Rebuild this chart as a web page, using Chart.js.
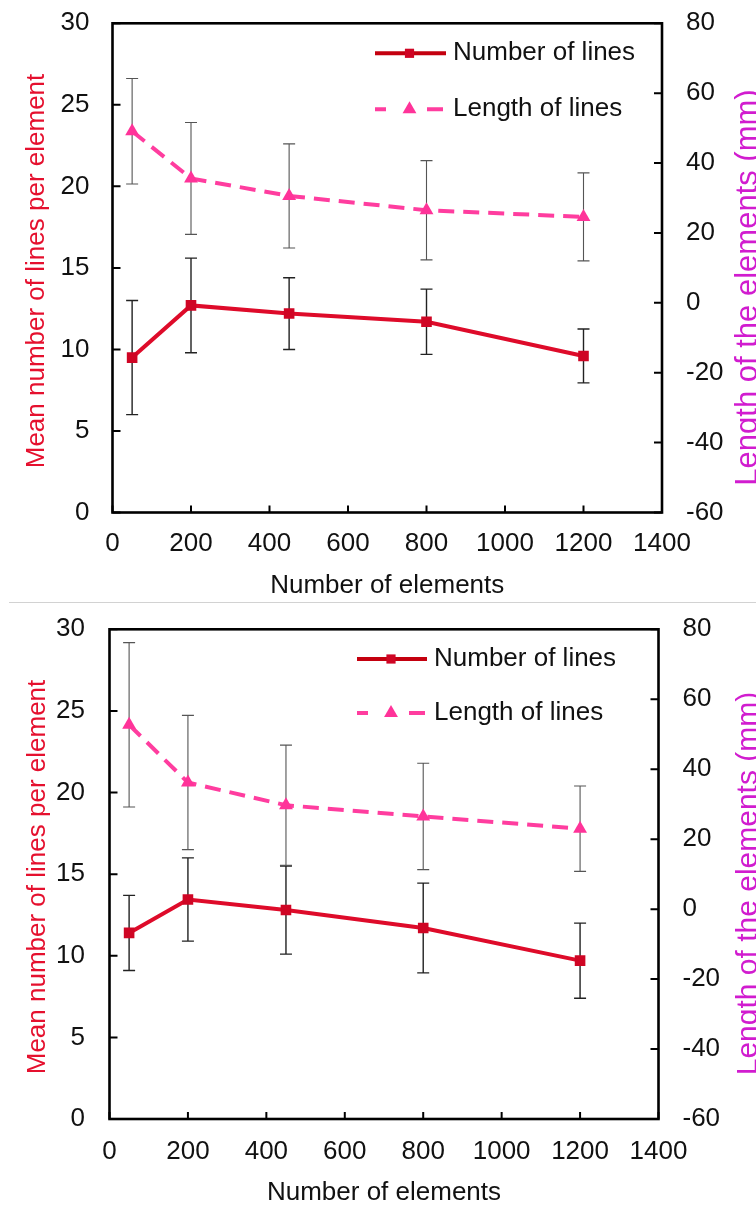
<!DOCTYPE html>
<html>
<head>
<meta charset="utf-8">
<script src="https://cdn.jsdelivr.net/npm/chart.js@4.4.1/dist/chart.umd.min.js"></script>
<style>
  html, body { margin: 0; padding: 0; background: #fff; }
  body { width: 756px; height: 1205px; overflow: hidden; position: relative; }
  .panel { position: absolute; left: 0; width: 756px; height: 602px; }
  #sep { position: absolute; left: 9px; right: 0; top: 602px; height: 1px; background: #d2d2d2; }
</style>
</head>
<body>
<div class="panel" style="top:0"><canvas id="chartA"></canvas></div>
<div id="sep"></div>
<div class="panel" style="top:603px"><canvas id="chartB"></canvas></div>
<script>
// Shared categories and axis ticks
const elementCounts = [50, 200, 450, 800, 1200];
const xTickValues = [0, 200, 400, 600, 800, 1000, 1200, 1400];
const leftTickValues = [0, 5, 10, 15, 20, 25, 30];
const rightTickValues = [-60, -40, -20, 0, 20, 40, 60, 80];

const seriesNames = ['Number of lines', 'Length of lines'];
const xTitle = 'Number of elements';
const leftTitle = 'Mean number of lines per element';
const rightTitle = 'Length of the elements (mm)';

// Upper panel: means and standard deviations
const linesMeanA = [9.5, 12.7, 12.2, 11.7, 9.6];
const linesSdA = [3.5, 2.9, 2.2, 2.0, 1.65];
const lengthMeanA = [49.1, 35.6, 30.6, 26.5, 24.6];
const lengthSdA = [15.1, 16.0, 14.9, 14.2, 12.6];

// Lower panel: means and standard deviations
const linesMeanB = [11.4, 13.45, 12.8, 11.7, 9.7];
const linesSdB = [2.3, 2.55, 2.7, 2.75, 2.3];
const lengthMeanB = [52.7, 36.2, 29.7, 26.5, 23.0];
const lengthSdB = [23.5, 19.2, 17.2, 15.2, 12.2];

const FONT = "'Liberation Sans', Arial, Helvetica, sans-serif";
const RED = '#de0b2a';
const RED_MARK = '#cf0524';
const PINK = '#ff3d9f';
const PINK_MARK = '#ff3399';

// vertical error bars drawn from each dataset's sd array through its own y scale
const errorBarPlugin = {
  id: 'errorBars',
  beforeDatasetsDraw(chart) {
    const ctx = chart.ctx;
    const xs = chart.scales.x;
    chart.data.datasets.forEach((ds) => {
      const ys = chart.scales[ds.yAxisID];
      ctx.save();
      ctx.strokeStyle = ds.errorColor;
      ctx.lineWidth = ds.errorWidth;
      ds.data.forEach((pt, i) => {
        const sd = ds.sd[i];
        const x = xs.getPixelForValue(pt.x);
        const yHi = ys.getPixelForValue(pt.y + sd);
        const yLo = ys.getPixelForValue(pt.y - sd);
        ctx.beginPath();
        ctx.moveTo(x, yHi); ctx.lineTo(x, yLo);
        ctx.moveTo(x - 6, yHi); ctx.lineTo(x + 6, yHi);
        ctx.moveTo(x - 6, yLo); ctx.lineTo(x + 6, yLo);
        ctx.stroke();
      });
      ctx.restore();
    });
  }
};

// boxed plot frame with inward tick marks on the bottom, left and right axes
const framePlugin = {
  id: 'frame',
  afterDatasetsDraw(chart) {
    const ctx = chart.ctx;
    const a = chart.chartArea;
    ctx.save();
    ctx.strokeStyle = '#000';
    ctx.lineWidth = 2;
    ctx.beginPath();
    chart.scales.x.ticks.forEach(t => {
      const px = chart.scales.x.getPixelForValue(t.value);
      ctx.moveTo(px, a.bottom); ctx.lineTo(px, a.bottom - 7);
    });
    chart.scales.y.ticks.forEach(t => {
      const py = chart.scales.y.getPixelForValue(t.value);
      ctx.moveTo(a.left, py); ctx.lineTo(a.left + 8, py);
    });
    chart.scales.y1.ticks.forEach(t => {
      const py = chart.scales.y1.getPixelForValue(t.value);
      ctx.moveTo(a.right, py); ctx.lineTo(a.right - 8, py);
    });
    ctx.stroke();
    ctx.lineWidth = 2.6;
    ctx.strokeRect(a.left, a.top, a.right - a.left, a.bottom - a.top);
    ctx.restore();
  }
};

// axis titles and the in-plot legend
const decorPlugin = {
  id: 'decor',
  afterDraw(chart) {
    const ctx = chart.ctx;
    const a = chart.chartArea;
    const g = chart.options.plugins.decor;
    ctx.save();
    ctx.textAlign = 'center';
    ctx.textBaseline = 'alphabetic';

    ctx.fillStyle = '#111';
    ctx.font = `26px ${FONT}`;
    ctx.fillText(xTitle, (a.left + a.right) / 2, g.xTitleY);

    ctx.save();
    ctx.translate(g.leftTitleX, g.leftTitleY);
    ctx.rotate(-Math.PI / 2);
    ctx.fillStyle = '#e5102e';
    ctx.font = `26px ${FONT}`;
    ctx.fillText(leftTitle, 0, 0);
    ctx.restore();

    ctx.save();
    ctx.translate(g.rightTitleX, g.rightTitleY);
    ctx.rotate(-Math.PI / 2);
    ctx.fillStyle = '#d11ccf';
    ctx.font = `${g.rightTitleSize}px ${FONT}`;
    ctx.fillText(rightTitle, 0, 0);
    ctx.restore();

    // legend
    const L = g.legend;
    chart.data.datasets.forEach((ds, i) => {
      const y = L.y[i];
      ctx.save();
      ctx.strokeStyle = ds.legendColor;
      ctx.lineWidth = 4;
      if (ds.borderDash && ds.borderDash.length) ctx.setLineDash([11, 41, 16, 100]);
      ctx.beginPath();
      ctx.moveTo(L.x0, y); ctx.lineTo(L.x1, y);
      ctx.stroke();
      ctx.setLineDash([]);
      ctx.fillStyle = ds.pointBackgroundColor;
      Chart.helpers.drawPoint(ctx, {
        pointStyle: ds.pointStyle, radius: ds.legendRadius, rotation: 0, borderWidth: 0
      }, (L.x0 + L.x1) / 2 - 1, y);
      ctx.restore();
      ctx.fillStyle = '#111';
      ctx.font = `26px ${FONT}`;
      ctx.textAlign = 'left';
      ctx.textBaseline = 'middle';
      ctx.fillText(ds.label, L.textX, y);
    });
    ctx.restore();
  }
};

const plainLabel = v => String(v);

function buildChart(id, linesMean, linesSd, lengthMean, lengthSd, geo) {
  const tickFont = { family: FONT, size: 26 };
  return new Chart(document.getElementById(id), {
    type: 'line',
    data: {
      datasets: [
        {
          label: seriesNames[0],
          data: elementCounts.map((x, i) => ({ x, y: linesMean[i] })),
          sd: linesSd,
          yAxisID: 'y',
          borderColor: RED,
          legendColor: '#c4000f',
          borderWidth: 4,
          tension: 0,
          pointStyle: 'rect',
          pointRadius: 7.5,
          legendRadius: 6.5,
          pointBackgroundColor: RED_MARK,
          pointBorderWidth: 0,
          errorColor: '#222',
          errorWidth: 1.4
        },
        {
          label: seriesNames[1],
          data: elementCounts.map((x, i) => ({ x, y: lengthMean[i] })),
          sd: lengthSd,
          yAxisID: 'y1',
          borderColor: PINK,
          legendColor: PINK,
          borderWidth: 4,
          borderDash: [16, 9],
          tension: 0,
          pointStyle: 'triangle',
          pointRadius: 8,
          legendRadius: 8,
          pointBackgroundColor: PINK_MARK,
          pointBorderWidth: 0,
          errorColor: '#555',
          errorWidth: 1.1
        }
      ]
    },
    options: {
      responsive: true,
      maintainAspectRatio: false,
      animation: false,
      devicePixelRatio: 1,
      layout: { padding: { top: geo.top, left: 0, right: 0, bottom: 0 }, autoPadding: false },
      plugins: {
        legend: { display: false },
        tooltip: { enabled: false },
        decor: geo
      },
      scales: {
        x: {
          type: 'linear',
          min: 0, max: 1400,
          afterBuildTicks: s => { s.ticks = xTickValues.map(v => ({ value: v })); },
          afterFit: s => { s.height = geo.xAxisHeight; s.paddingLeft = 0; s.paddingRight = 0; },
          grid: { display: false, drawTicks: false },
          border: { display: false },
          ticks: { font: tickFont, color: '#111', padding: geo.xPad, maxRotation: 0, autoSkip: false, callback: plainLabel }
        },
        y: {
          type: 'linear', position: 'left',
          min: 0, max: 30,
          afterBuildTicks: s => { s.ticks = leftTickValues.map(v => ({ value: v })); },
          afterFit: s => { s.width = geo.left; s.paddingTop = 0; s.paddingBottom = 0; },
          grid: { display: false, drawTicks: false },
          border: { display: false },
          ticks: { font: tickFont, color: '#111', padding: geo.leftPad, callback: plainLabel }
        },
        y1: {
          type: 'linear', position: 'right',
          min: -60, max: 80,
          afterBuildTicks: s => { s.ticks = rightTickValues.map(v => ({ value: v })); },
          afterFit: s => { s.width = 756 - geo.right; s.paddingTop = 0; s.paddingBottom = 0; },
          grid: { display: false, drawTicks: false },
          border: { display: false },
          ticks: { font: tickFont, color: '#111', padding: geo.rightPad, callback: plainLabel }
        }
      }
    },
    plugins: [errorBarPlugin, framePlugin, decorPlugin]
  });
}

buildChart('chartA', linesMeanA, linesSdA, lengthMeanA, lengthSdA, {
  top: 23.3, left: 112.5, right: 662, xAxisHeight: 602 - 512.5,
  leftPad: 23, rightPad: 24, xPad: 16,
  xTitleY: 592.5,
  leftTitleX: 44, leftTitleY: 271,
  rightTitleX: 757, rightTitleY: 287.5, rightTitleSize: 31,
  legend: { x0: 375, x1: 446, textX: 453, y: [53.3, 109.3] }
});

buildChart('chartB', linesMeanB, linesSdB, lengthMeanB, lengthSdB, {
  top: 26.3, left: 109.5, right: 658.5, xAxisHeight: 602 - 516,
  leftPad: 24.5, rightPad: 24, xPad: 17,
  xTitleY: 597,
  leftTitleX: 45, leftTitleY: 274,
  rightTitleX: 757, rightTitleY: 280.5, rightTitleSize: 30,
  legend: { x0: 357, x1: 427, textX: 434, y: [56, 110] }
});
</script>
</body>
</html>
